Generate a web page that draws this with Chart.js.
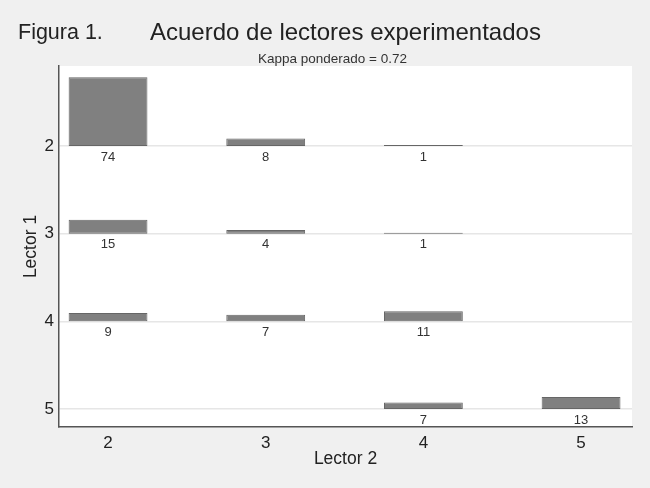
<!DOCTYPE html>
<html>
<head>
<meta charset="utf-8">
<script src="https://cdn.jsdelivr.net/npm/chart.js@4.4.1/dist/chart.umd.min.js"></script>
<style>
  html, body { margin: 0; padding: 0; background: #f0f0f0; }
  #wrap { position: relative; width: 650px; height: 488px; font-family: "Liberation Sans", Arial, sans-serif; color: #222; }
  #wrap canvas { position: absolute; left: 0; top: 0; }
  .txt { position: absolute; white-space: nowrap; line-height: 1; }
  #fig { left: 18px; top: 22px; font-size: 21.5px; }
  #ttl { left: 150px; top: 20px; font-size: 24px; }
  #sub { left: 0; width: 665px; text-align: center; top: 52px; font-size: 13.5px; color: #333; }
</style>
</head>
<body>
<div id="wrap">
  <canvas id="chart" width="650" height="488"></canvas>
  <div class="txt" id="fig">Figura 1.</div>
  <div class="txt" id="ttl">Acuerdo de lectores experimentados</div>
  <div class="txt" id="sub">Kappa ponderado = 0.72</div>
</div>
<script>
// cells of the agreement table: Lector 2 (x), Lector 1 (y), count
const lector2 = [2, 3, 4, 2, 3, 4, 2, 3, 4, 4, 5];
const lector1 = [2, 2, 2, 3, 3, 3, 4, 4, 4, 5, 5];
const counts  = [74, 8, 1, 15, 4, 1, 9, 7, 11, 7, 13];
const xTicks = [2, 3, 4, 5];
const yTicks = [2, 3, 4, 5];

// bar height in y-axis units per observation
const unitPerCount = 0.0106;

const barData = lector2.map((x, i) => ({ x: x, y: [lector1[i], lector1[i] - counts[i] * unitPerCount] }));

// white plot region
const plotBg = {
  id: 'plotBg',
  beforeDraw(chart) {
    const { ctx, chartArea: a } = chart;
    ctx.save();
    ctx.fillStyle = '#ffffff';
    ctx.fillRect(a.left, a.top, a.right - a.left, a.bottom - a.top);
    ctx.restore();
  }
};

// count labels under each bar
const countLabels = {
  id: 'countLabels',
  afterDatasetsDraw(chart) {
    const { ctx, scales } = chart;
    const meta = chart.getDatasetMeta(0);
    ctx.save();
    ctx.fillStyle = '#333';
    ctx.font = '13px "Liberation Sans", Arial, sans-serif';
    ctx.textAlign = 'center';
    ctx.textBaseline = 'middle';
    meta.data.forEach((el, i) => {
      const y = scales.y.getPixelForValue(lector1[i]);
      ctx.fillText(String(counts[i]), el.x, y + 11);
    });
    ctx.restore();
  }
};

const fontTick = { family: '"Liberation Sans", Arial, sans-serif', size: 17 };
const fontTitle = { family: '"Liberation Sans", Arial, sans-serif', size: 17.5 };

new Chart(document.getElementById('chart'), {
  type: 'bar',
  data: {
    datasets: [{
      data: barData,
      backgroundColor: '#808080',
      borderColor: '#666666',
      borderWidth: 1,
      borderSkipped: false,
      categoryPercentage: 1,
      barPercentage: 0.5
    }]
  },
  options: {
    responsive: false,
    animation: false,
    layout: { padding: { top: 66, right: 18, left: 0, bottom: 0 } },
    plugins: { legend: { display: false }, tooltip: { enabled: false } },
    scales: {
      x: {
        type: 'linear',
        offset: false,
        min: 1.689,
        max: 5.323,
        afterBuildTicks: s => { s.ticks = xTicks.map(v => ({ value: v })); },
        afterFit: s => { s.height = 61; },
        grid: { display: false, drawTicks: false },
        border: { display: true, color: '#555', width: 1.5 },
        ticks: { color: '#222', font: fontTick, padding: 6 },
        title: { display: true, text: 'Lector 2', color: '#222', font: fontTitle, padding: { top: 0, bottom: 18 } }
      },
      y: {
        type: 'linear',
        reverse: true,
        min: 1.0875,
        max: 5.205,
        afterBuildTicks: s => { s.ticks = yTicks.map(v => ({ value: v })); },
        afterFit: s => { s.width = 59; },
        grid: { color: '#e6e6e6', lineWidth: 1.5, drawTicks: false },
        border: { display: true, color: '#555', width: 1.5 },
        ticks: { color: '#222', font: fontTick, padding: 5 },
        title: { display: true, text: 'Lector 1', color: '#222', font: fontTitle, padding: { top: 21, bottom: 0 } }
      }
    }
  },
  plugins: [plotBg, countLabels]
});
</script>
</body>
</html>
